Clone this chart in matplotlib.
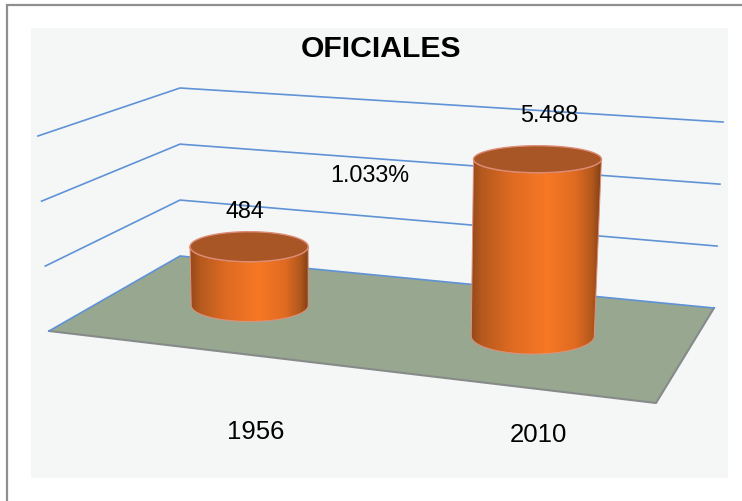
import numpy as np
import matplotlib
matplotlib.use("Agg")
import matplotlib.pyplot as plt
from matplotlib.patches import Rectangle, Polygon
from matplotlib.colors import LinearSegmentedColormap

# ---- data ----
categories = ["1956", "2010"]
values = [484, 5488]
value_labels = ["484", "5.488"]
growth_label = "1.033%"
title = "OFICIALES"
axis_ticks = [135, 511, 1933, 7350]   # log-scale levels of the unlabelled gridlines

# ---- layout (pixel space of the 3D projection) ----
W, H = 742, 501
FL, BL, BR, FR = map(np.array, ([49., 331.], [180., 256.], [714., 308.], [656., 403.]))
UP_FL, UP_BL, UP_BR, UP_FR = map(np.array, ([-3.7, -65.], [0., -56.], [3., -62.], [3., -68.]))
BAR_U = [0.231, 0.729]
BAR_V = 0.53
BAR_RX = [58.5, 61.5]
BAR_RY = [16.0, 18.0]
TOP_RY = [15.0, 13.5]
TOP_GROW = [1.01, 1.04]


def level(v):
    return np.log(v / axis_ticks[0]) / np.log(axis_ticks[-1] / axis_ticks[0]) * (len(axis_ticks) - 1)


def project(u, d, lev=0.0):
    """u along the category axis, d into the depth, lev up the value axis."""
    p = (1 - u) * (1 - d) * FL + u * (1 - d) * FR + (1 - u) * d * BL + u * d * BR
    up = (1 - u) * (1 - d) * UP_FL + u * (1 - d) * UP_FR + (1 - u) * d * UP_BL + u * d * UP_BR
    return p + lev * up


fig = plt.figure(figsize=(W / 100, H / 100), dpi=100, facecolor="white")
ax = fig.add_axes([0, 0, 1, 1])
ax.set_axis_off()

# frame: only the top and left edges fall inside the picture
ax.plot([7, 7, W], [H, 4.5, 4.5], color="#8f8f8f", lw=1.6, zorder=0, solid_joinstyle="miter")
ax.add_patch(Rectangle((31, 28), 697, 450, fc="#f5f7f7", ec="none", zorder=0.5))

# floor
floor = np.array([project(0, 0), project(0, 1), project(1, 1), project(1, 0)])
ax.add_patch(Polygon(floor, closed=True, fc="#98a78f", ec="none", zorder=1))
ax.plot(*np.array([project(0, 0), project(1, 0), project(1, 1)]).T, color="#868b8a", lw=1.5, zorder=1.2)

# wall gridlines (the floor edge is the first one)
for tick in axis_ticks:
    lev = level(tick)
    pts = [project(0, 0, lev), project(0, 1, lev), project(1, 1, lev)]
    ax.plot(*np.array(pts).T, color="#5f93d6", lw=1.2, zorder=1.5, solid_joinstyle="miter")

# cylinders
cmap = LinearSegmentedColormap.from_list(
    "cyl", [(0, "#94491a"), (0.08, "#b4591e"), (0.3, "#de6a22"), (0.58, "#f77825"),
            (0.8, "#e06b21"), (0.93, "#b0571d"), (1, "#7e3f15")])
grad = np.linspace(0, 1, 256)[None, :]
t = np.linspace(0, np.pi, 80)

for i, val in enumerate(values):
    lev = level(val)
    cb = project(BAR_U[i], BAR_V)
    ct = project(BAR_U[i], BAR_V, lev)
    rxb, ryb, ryt = BAR_RX[i], BAR_RY[i], TOP_RY[i]
    rxt = rxb * TOP_GROW[i]
    bottom_arc = np.c_[cb[0] + rxb * np.cos(t), cb[1] + ryb * np.sin(t)]
    top_arc = np.c_[ct[0] - rxt * np.cos(t), ct[1] + ryt * np.sin(t)]
    side = np.vstack([bottom_arc, top_arc])
    poly = Polygon(side, closed=True, fc="none", ec="#e0917c", lw=0.7, zorder=3.2)
    ax.add_patch(poly)
    im = ax.imshow(grad, cmap=cmap, aspect="auto", zorder=3, interpolation="bilinear",
                   extent=[min(cb[0] - rxb, ct[0] - rxt), max(cb[0] + rxb, ct[0] + rxt),
                           cb[1] + ryb, ct[1] - ryt])
    im.set_clip_path(poly)
    th = np.linspace(0, 2 * np.pi, 160)
    ax.add_patch(Polygon(np.c_[ct[0] + rxt * np.cos(th), ct[1] + ryt * np.sin(th)], closed=True,
                         fc="#a85626", ec="#dc8c76", lw=1.0, zorder=3.4))

ax.set_xlim(0, W)
ax.set_ylim(H, 0)

font = dict(family="Liberation Sans", color="black", ha="center", va="center", zorder=5)
ax.text(381, 49, title, fontsize=21.7, fontweight="bold", **font)
ax.text(245, 212, value_labels[0], fontsize=16.8, **font)
ax.text(549, 115, value_labels[1], fontsize=16.8, **font)
ax.text(370, 175, growth_label, fontsize=16.8, **font)
ax.text(256, 432, categories[0], fontsize=18.5, **font)
ax.text(538, 435, categories[1], fontsize=18.5, **font)

fig.savefig("out.png", dpi=100, facecolor="white")
